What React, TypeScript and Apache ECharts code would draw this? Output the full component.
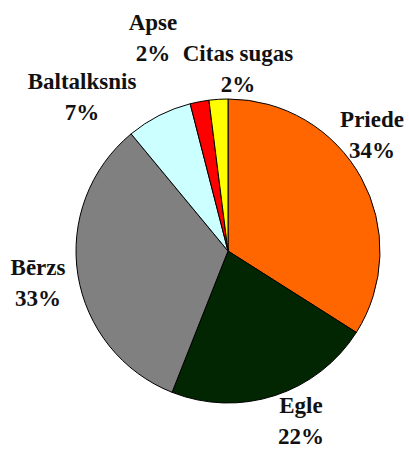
import React, { useEffect, useRef } from "react";
import * as echarts from "echarts";

const categories = ["Priede", "Egle", "Bērzs", "Baltalksnis", "Apse", "Citas sugas"];
const values = [34, 22, 33, 7, 2, 2];
const colors = ["#FF6600", "#012601", "#808080", "#CCFFFF", "#FF0000", "#FFFF00"];
// label anchor positions (layout only): centre of each two-line label
const labelPos: [number, number][] = [
  [372, 135],
  [301, 421],
  [38, 283],
  [82, 97],
  [153, 38],
  [238, 69],
];

const FONT = "Liberation Serif";

export default function App() {
  const ref = useRef<HTMLDivElement>(null);
  useEffect(() => {
    document.body.style.margin = "0";
    const chart = echarts.init(ref.current!, undefined, { renderer: "svg" });
    const texts: any[] = [];
    categories.forEach((name, i) => {
      const lines = [name, `${values[i]}%`];
      lines.forEach((line, j) => {
        texts.push({
          type: "text",
          x: labelPos[i][0],
          y: labelPos[i][1] + (j === 0 ? -15.5 : 15.5),
          style: {
            text: line,
            fontFamily: FONT,
            fontWeight: "bold",
            fontSize: 23,
            fill: "#111",
            align: "center",
            verticalAlign: "middle",
          },
        });
      });
    });
    chart.setOption({
      animation: false,
      backgroundColor: "#ffffff",
      series: [
        {
          type: "pie",
          center: [228, 251],
          radius: [0, 152],
          startAngle: 90,
          clockwise: true,
          data: categories.map((name, i) => ({
            name,
            value: values[i],
            itemStyle: { color: colors[i] },
          })),
          itemStyle: { borderColor: "#000000", borderWidth: 1 },
          label: { show: false },
          labelLine: { show: false },
          emphasis: { disabled: true },
        },
      ],
      graphic: texts,
    });
    return () => chart.dispose();
  }, []);
  return (
    <>
      <style>{`#root svg text { font-family: "Liberation Serif", "Times New Roman", serif !important; font-weight: bold !important; }`}</style>
      <div ref={ref} style={{ width: 409, height: 450 }} />
    </>
  );
}
